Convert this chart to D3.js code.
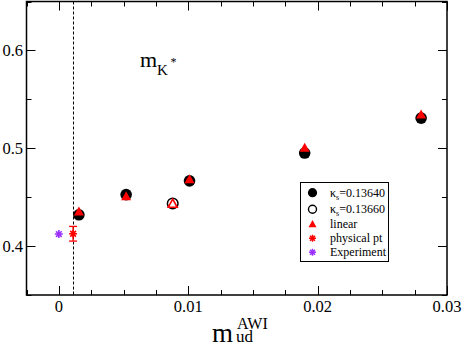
<!DOCTYPE html>
<html>
<head>
<meta charset="utf-8">
<script src="https://cdn.jsdelivr.net/npm/d3@7"></script>
<style>
	body { margin: 0; background: #fff; }
</style>
</head>
<body>
<div id="canvas"></div>
<script>
// Data
const mudHeavy = [0.00155, 0.0052, 0.0101, 0.0190, 0.0280]
const mkHeavy = [0.432, 0.4526, 0.4667, 0.4951, 0.5308]
const mudLight = [0.0088]
const mkLight = [0.4435]
const linearHeavy = [0.4350, 0.4506, 0.4680, 0.5002, 0.5340]
const linearLight = [0.4430]
const physX = [0.0011], physY = [0.4126], physErr = [0.0075]
const expX = [0], expY = [0.4123]
const chiralLine = 0.0011
const xTickLabels = [0, 0.01, 0.02, 0.03]
const yTickLabels = [0.4, 0.5, 0.6]
const legendLabels = ['κ=0.13640', 'κ=0.13660', 'linear', 'physical pt', 'Experiment']

const colors = {
	red: '#ff0000',
	purple: '#9b30ff',
	black: '#000000',
}
const serif = "'Liberation Serif', 'Times New Roman', 'DejaVu Serif', serif"

const width = 463, height = 347
const plot = {left: 26.5, right: 447, top: 1.5, bottom: 295}

const svg = d3.select('#canvas').append('svg')
	.attr('width', width).attr('height', height)
	.attr('font-family', serif)

const x = d3.scaleLinear().domain([-0.0025, 0.03]).range([plot.left, plot.right])
const y = d3.scaleLinear().domain([0.35, 0.65]).range([plot.bottom, plot.top])

// Ticks (inward on all four sides)
const tickG = svg.append('g').attr('stroke', colors.black).attr('stroke-width', 1)
d3.range(-0.0025, 0.03001, 0.0025).forEach(v => {
	const major = Math.abs(Math.round(v / 0.01) * 0.01 - v) < 1e-9
	const len = major ? 9 : 5
	const px = Math.round(x(v)) + 0.5
	tickG.append('line').attr('x1', px).attr('x2', px).attr('y1', plot.bottom).attr('y2', plot.bottom - len)
	tickG.append('line').attr('x1', px).attr('x2', px).attr('y1', plot.top).attr('y2', plot.top + len)
})
d3.range(0.35, 0.6501, 0.05).forEach(v => {
	const major = Math.abs(Math.round(v / 0.1) * 0.1 - v) < 1e-9
	const len = major ? 9 : 5
	const py = Math.round(y(v)) + 0.5
	tickG.append('line').attr('y1', py).attr('y2', py).attr('x1', plot.left).attr('x2', plot.left + len)
	tickG.append('line').attr('y1', py).attr('y2', py).attr('x1', plot.right).attr('x2', plot.right - len)
})

// Frame
svg.append('rect')
	.attr('x', plot.left).attr('y', plot.top)
	.attr('width', plot.right - plot.left).attr('height', plot.bottom - plot.top)
	.attr('fill', 'none').attr('stroke', colors.black).attr('stroke-width', 1.5)

// Tick labels
svg.selectAll('.xlab').data(xTickLabels).enter().append('text')
	.attr('x', d => x(d)).attr('y', 312)
	.attr('text-anchor', 'middle').attr('font-size', 16.5).attr('font-family', serif)
	.text(d => d)
svg.selectAll('.ylab').data(yTickLabels).enter().append('text')
	.attr('x', 23).attr('y', d => y(d) + 5.5)
	.attr('text-anchor', 'end').attr('font-size', 16.5).attr('font-family', serif)
	.text(d => d)

// Axis title: m_ud^AWI
const xt = svg.append('text').attr('x', 212).attr('y', 342).attr('font-size', 27).attr('font-family', serif)
xt.append('tspan').text('m')
xt.append('tspan').attr('x', 236).attr('y', 342).attr('font-size', 17).text('ud')
xt.append('tspan').attr('x', 237).attr('y', 329).attr('font-size', 16).text('AWI')

// In-plot label: m_K*
const lab = svg.append('text').attr('x', 140).attr('y', 67).attr('font-size', 22).attr('font-family', serif)
lab.append('tspan').text('m')
lab.append('tspan').attr('x', 157).attr('y', 75).attr('font-size', 15).text('K')
lab.append('tspan').attr('x', 170.5).attr('y', 66).attr('font-size', 12).text('*')

// Dashed vertical line
const chiralX = Math.round(x(chiralLine)) + 0.5
svg.append('line')
	.attr('x1', chiralX).attr('x2', chiralX)
	.attr('y1', plot.top).attr('y2', plot.bottom)
	.attr('stroke', colors.black).attr('stroke-width', 1).attr('stroke-dasharray', '3,2')

// Helpers for symbols
function starPath(r) {
	const d = r * Math.SQRT1_2
	return `M${-r},0L${r},0M0,${-r}L0,${r}M${-d},${-d}L${d},${d}M${-d},${d}L${d},${-d}`
}
function trianglePath(s) {
	const h = s * 0.9
	return `M0,${-h * 0.6}L${s / 2},${h * 0.4}L${-s / 2},${h * 0.4}Z`
}

const pts = svg.append('g')

// kappa = 0.13640 filled circles
pts.selectAll('.heavy').data(mudHeavy).enter().append('circle')
	.attr('cx', d => x(d)).attr('cy', (d, i) => y(mkHeavy[i])).attr('r', 5.8)
	.attr('fill', colors.black)
// kappa = 0.13660 open circles
pts.selectAll('.light').data(mudLight).enter().append('circle')
	.attr('cx', d => x(d)).attr('cy', (d, i) => y(mkLight[i])).attr('r', 5.3)
	.attr('fill', '#fff').attr('stroke', colors.black).attr('stroke-width', 1.5)

// linear triangles
pts.selectAll('.linH').data(mudHeavy).enter().append('path')
	.attr('transform', (d, i) => `translate(${x(d)},${y(linearHeavy[i])})`)
	.attr('d', trianglePath(10)).attr('fill', colors.red)
pts.selectAll('.linL').data(mudLight).enter().append('path')
	.attr('transform', (d, i) => `translate(${x(d)},${y(linearLight[i])})`)
	.attr('d', trianglePath(9)).attr('fill', '#fff').attr('stroke', colors.red).attr('stroke-width', 1.6)

// physical point with error bar
physX.forEach((v, i) => {
	const px = x(v), y0 = y(physY[i] - physErr[i]), y1 = y(physY[i] + physErr[i])
	const g = pts.append('g').attr('stroke', colors.red).attr('stroke-width', 1.3)
	g.append('line').attr('x1', px).attr('x2', px).attr('y1', y0).attr('y2', y1)
	g.append('line').attr('x1', px - 4).attr('x2', px + 4).attr('y1', y0).attr('y2', y0)
	g.append('line').attr('x1', px - 4).attr('x2', px + 4).attr('y1', y1).attr('y2', y1)
	g.append('path').attr('transform', `translate(${px},${y(physY[i])})`).attr('d', starPath(4)).attr('stroke-width', 1.6)
})
// experiment
pts.selectAll('.exp').data(expX).enter().append('path')
	.attr('transform', (d, i) => `translate(${x(d)},${y(expY[i])})`)
	.attr('d', starPath(4)).attr('stroke', colors.purple).attr('stroke-width', 1.6).attr('fill', 'none')

// Legend
const legend = svg.append('g')
legend.append('rect').attr('x', 300.5).attr('y', 182.5).attr('width', 88).attr('height', 79)
	.attr('fill', '#fff').attr('stroke', colors.black).attr('stroke-width', 1)
const legY = [192.7, 209.3, 224.3, 238.3, 252.3]
const symX = 312.5, textX = 330
legend.append('circle').attr('cx', symX).attr('cy', legY[0]).attr('r', 4.6).attr('fill', colors.black)
legend.append('circle').attr('cx', symX).attr('cy', legY[1]).attr('r', 4).attr('fill', '#fff')
	.attr('stroke', colors.black).attr('stroke-width', 1.4)
legend.append('path').attr('transform', `translate(${symX},${legY[2]})`).attr('d', trianglePath(8)).attr('fill', colors.red)
legend.append('path').attr('transform', `translate(${symX},${legY[3]})`).attr('d', starPath(3.5))
	.attr('stroke', colors.red).attr('stroke-width', 1.5)
legend.append('path').attr('transform', `translate(${symX},${legY[4]})`).attr('d', starPath(3.5))
	.attr('stroke', colors.purple).attr('stroke-width', 1.5)

legendLabels.forEach((label, i) => {
	const t = legend.append('text').attr('x', textX).attr('y', legY[i] + 4).attr('font-size', 12).attr('font-family', serif)
	if (label.startsWith('κ')) {
		t.append('tspan').text('κ')
		t.append('tspan').attr('font-size', 8).attr('dy', 3).text('s')
		t.append('tspan').attr('dy', -3).text(label.slice(1))
	} else {
		t.text(label)
	}
})
</script>
</body>
</html>
